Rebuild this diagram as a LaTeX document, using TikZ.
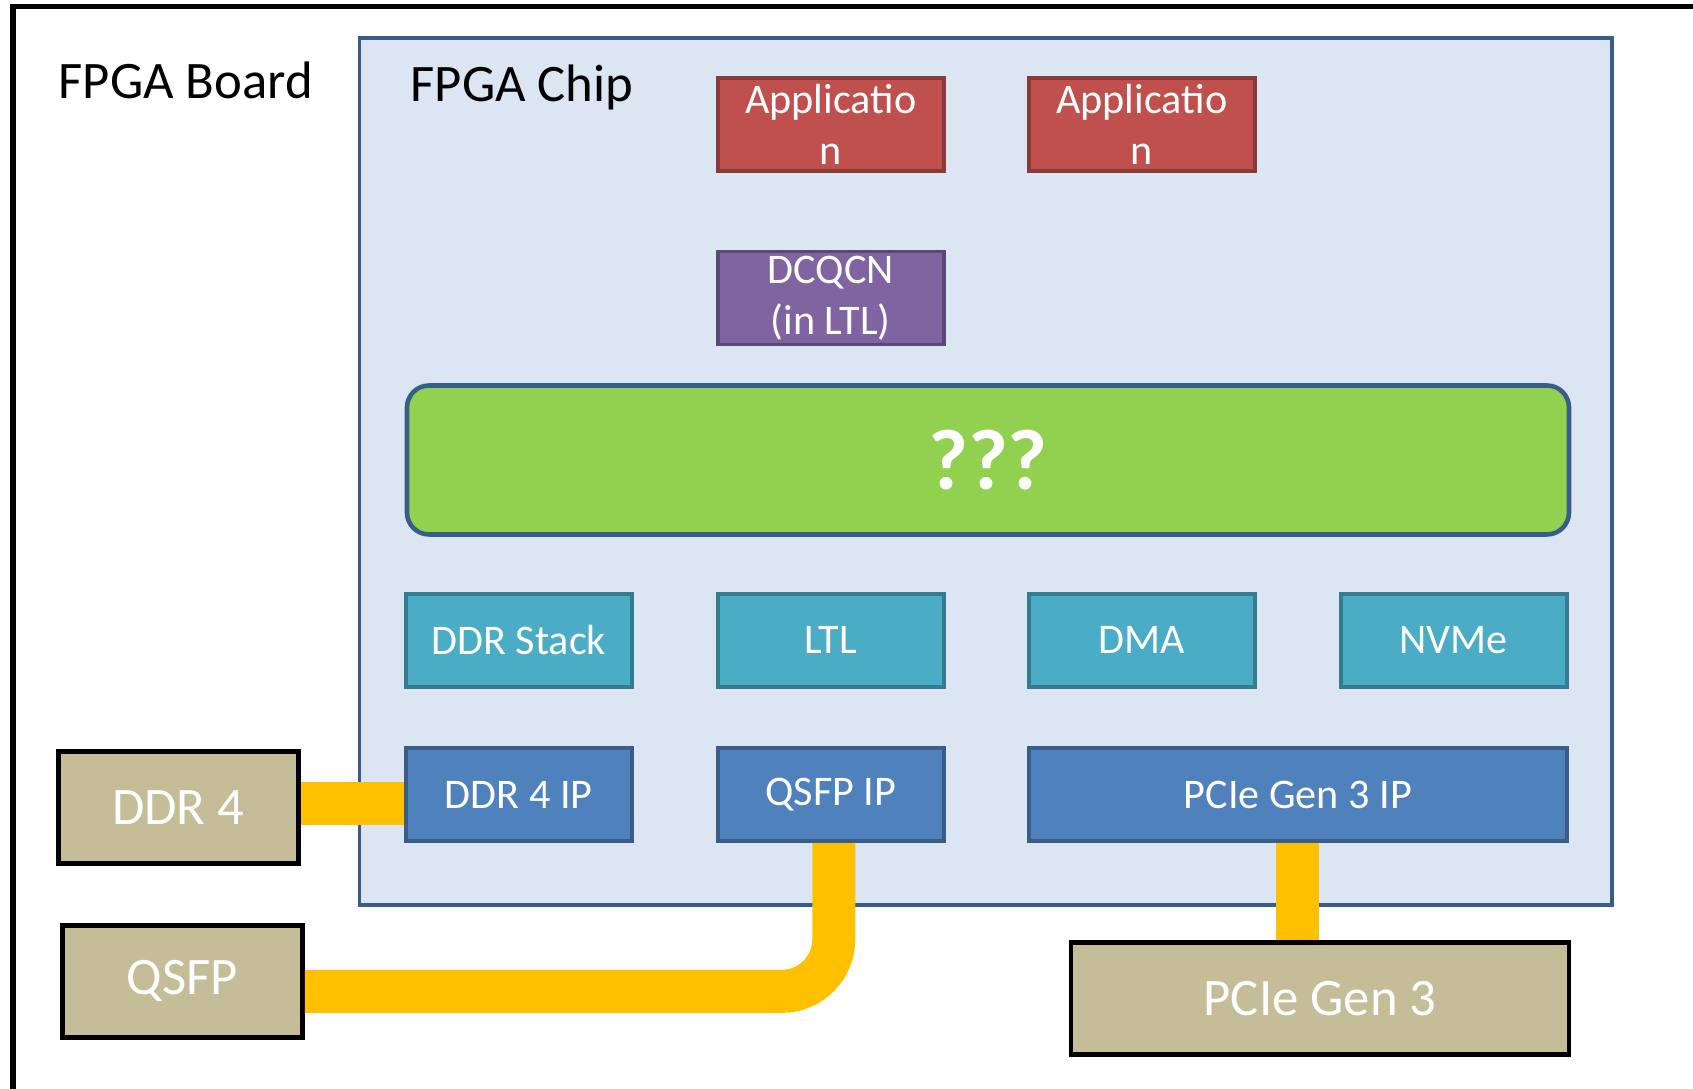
\documentclass[tikz,border=0pt]{standalone}
\usepackage{fontspec}
\setmainfont{Carlito}
\usetikzlibrary{positioning}
\definecolor{chipfill}{RGB}{220,230,242}
\definecolor{chipline}{RGB}{56,93,138}
\definecolor{appred}{RGB}{192,80,77}
\definecolor{plum}{RGB}{128,100,162}
\definecolor{glue}{RGB}{146,208,80}
\definecolor{aqua}{RGB}{75,172,198}
\definecolor{steel}{RGB}{79,129,189}
\definecolor{khaki}{RGB}{196,189,151}
\definecolor{gold}{RGB}{255,192,0}
\tikzset{
  blk/.style={draw=#1!72!black,fill=#1,line width=1.1pt,text=white,
    minimum width=22.6mm,minimum height=9.3mm,inner sep=0pt,align=center,
    font=\fontsize{12}{14.5}\selectfont},
  blk/.default=steel,
  port/.style={draw=black,fill=khaki,line width=1.4pt,text=white,
    minimum width=24mm,minimum height=11.2mm,inner sep=0pt,
    font=\fontsize{15}{18}\selectfont},
  cable/.style={draw=gold,line width=4.3mm},
  title/.style={anchor=base west,inner sep=0pt,font=\fontsize{15}{18}\selectfont},
}
\begin{document}
\begin{tikzpicture}
  \useasboundingbox (0,0) rectangle (16.93,10.89);
  % board and chip outlines
  \draw[line width=1.6pt] (0.13,-1) rectangle (18,10.825);
  \draw[draw=chipline,fill=chipfill,line width=1pt] (3.595,1.842) rectangle (16.12,10.512);
  \node[title] (boardlbl) at (0.58,9.907) {FPGA Board};
  \node[title] (chiplbl) at (4.10,9.873) {FPGA Chip};

  % applications and congestion control
  \node[blk=appred] (app1) at (8.308,9.643) {Applicatio\\n};
  \node[blk=appred] (app2) at (11.418,9.643) {Applicatio\\n};
  \node[blk=plum] (dcqcn) at (8.308,7.91) {DCQCN\\(in LTL)};

  % the unknown middle layer
  \node[draw=chipline,fill=glue,line width=1.3pt,rounded corners=2.2mm,
    minimum width=116.2mm,minimum height=14.9mm,text=white,
    font=\fontsize{24.5}{28}\selectfont\bfseries] (mid) at (9.88,6.29) {???};

  % stacks
  \node[blk=aqua] (ddrstack) at (5.188,4.488) {DDR Stack};
  \node[blk=aqua] (ltl) at (8.308,4.488) {LTL};
  \node[blk=aqua] (dma) at (11.418,4.488) {DMA};
  \node[blk=aqua] (nvme) at (14.538,4.488) {NVMe};

  % hard IP
  \node[blk] (ddr4ip) at (5.188,2.944) {DDR 4 IP};
  \node[blk] (qsfpip) at (8.308,2.944) {QSFP IP};
  \node[blk,minimum width=53.8mm] (pcieip) at (12.978,2.944) {PCIe Gen 3 IP};

  % board parts
  \node[port] (ddr4) at (1.782,2.814) {DDR 4};
  \node[port] (qsfp) at (1.825,1.076) {QSFP};
  \node[port,minimum width=49.8mm] (pcie) at (13.20,0.908) {PCIe Gen 3};

  % wiring
  \draw[cable] ([yshift=0.4mm]ddr4.east) -- ([yshift=0.4mm]ddr4.east -| ddr4ip.west);
  \draw[cable,rounded corners=5.2mm] ([xshift=0.3mm]qsfpip.south) |- ([yshift=-1mm]qsfp.east);
  \draw[cable] (pcieip.south) -- (pcieip.south |- pcie.north);
\end{tikzpicture}
\end{document}
